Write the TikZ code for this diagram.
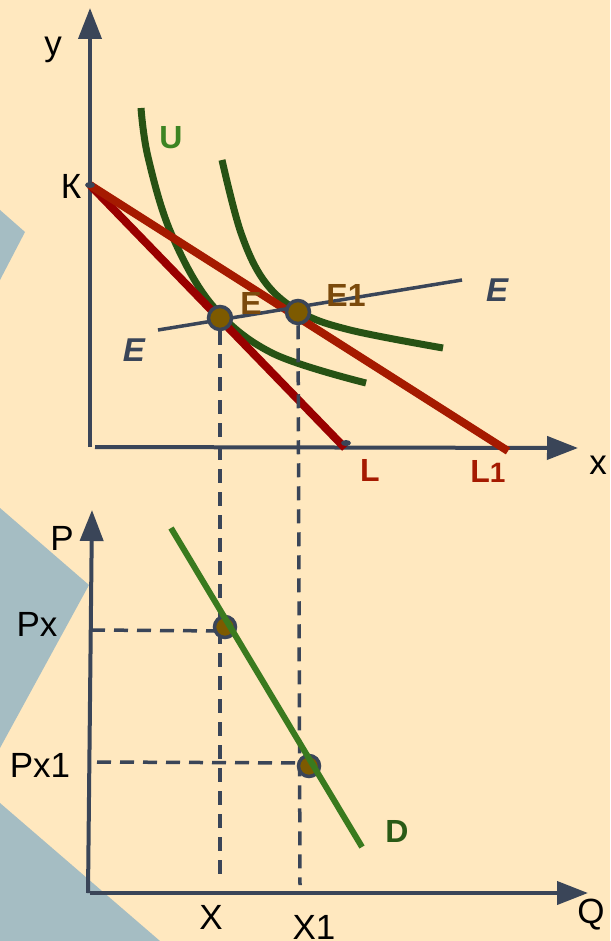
\documentclass[tikz,border=0pt]{standalone}
\usepackage{fontspec}
\setmainfont{Liberation Sans}
\usetikzlibrary{arrows.meta,shapes.geometric}
\definecolor{bg}{HTML}{FFE8BF}
\definecolor{slateblue}{HTML}{A5BDC3}
\definecolor{axis}{HTML}{3A4558}
\definecolor{redL}{HTML}{990000}
\definecolor{redLone}{HTML}{A51A00}
\definecolor{ucurve}{HTML}{275214}
\definecolor{dline}{HTML}{3A7A1E}
\definecolor{ulabel}{HTML}{3D8423}
\definecolor{dlabel}{HTML}{2A5A16}
\definecolor{brownlab}{HTML}{7B4A0C}
\definecolor{ptfill}{HTML}{7D5A00}
\begin{document}
\begin{tikzpicture}[x=1pt,y=-1pt,
  axisline/.style={draw=axis,line width=4pt,-{Triangle[length=31pt 0,width=23pt 0]}},
  dashline/.style={draw=axis,line width=3.5pt,dash pattern=on 14pt off 9pt},
  pt/.style={circle,draw=axis,fill=ptfill,line width=3.5pt,minimum size=23pt,inner sep=0pt},
  smalldot/.style={ellipse,fill=axis,minimum width=10pt,minimum height=6pt,inner sep=0pt},
  lab/.style={font=\fontsize{35}{40}\selectfont,text=black,inner sep=0pt},
  blab/.style={font=\fontsize{32}{36}\selectfont\bfseries,inner sep=0pt},
  ilab/.style={font=\fontsize{33}{36}\selectfont\bfseries\itshape,text=axis,inner sep=0pt}]
\fill[bg] (0,0) rectangle (610,941);
\useasboundingbox (0,0) rectangle (610,941);
% background wedges
\fill[slateblue] (0,210) -- (25,232) -- (0,280) -- cycle;
\fill[slateblue] (0,508) -- (89,585) -- (0,748) -- cycle;
\fill[slateblue] (0,803) -- (160,941) -- (0,941) -- cycle;

% ---------- upper graph ----------
\coordinate (O1) at (90,447);
\coordinate (Ytip) at (90,8);
\coordinate (Xstart) at (95,447);
\coordinate (Xtip) at (578,448);
\coordinate (K) at (90,185);
\coordinate (L) at (345,448);
\coordinate (L1) at (508,451);
\coordinate (Es) at (158,330);
\coordinate (Ee) at (462,280);

\draw[axisline] (O1) -- (Ytip);
\draw[axisline] (Xstart) -- (Xtip);

\node[lab] (ylab) at (53,50) {y};
\node[lab] (xlab) at (598,465) {x};
\node[lab] (Klab) at (71,186) {К};

% indifference curves
\draw[ucurve,line width=7pt] plot[smooth,tension=0.6] coordinates
  {(141,108) (148,157) (171,233) (212,305) (272,353) (366,383)};
\draw[ucurve,line width=7pt] plot[smooth,tension=0.6] coordinates
  {(222,160) (241,233) (265,282) (300,312) (350,330) (443,348)};

% budget lines
\draw[redL,line width=8pt] (K) -- (L);
\draw[redLone,line width=8pt] (K) -- (L1);

\node[smalldot] (Kdot) at (K) {};
\node[smalldot] (Ldot) at (346,443) {};

% income-consumption line
\draw[axis,line width=3.5pt] (Es) -- (Ee);

% equilibrium points
\node[pt] (E) at (220,318) {};
\node[pt] (E1) at (298,312) {};

\node[blab,text=ulabel] (Ulab) at (171,138) {U};
\node[blab,text=brownlab] (Elab) at (251,303) {E};
\node[blab,text=brownlab] (E1lab) at (346,295) {E1};
\node[ilab] (Eleft) at (134,350) {E};
\node[ilab] (Eright) at (497,290) {E};
\node[blab,text=redLone] (Llab) at (370,470) {L};
\node[blab,text=redLone] (L1lab) at (488,471) {L\fontsize{28}{30}\selectfont 1};

% ---------- lower graph ----------
\coordinate (O2) at (88,893);
\coordinate (Ptip) at (92,510);
\coordinate (Qstart) at (90,893);
\coordinate (Qtip) at (588,893);
\coordinate (Dtop) at (171,528);
\coordinate (Dbot) at (362,847);
\coordinate (Xfoot) at (220,877);
\coordinate (X1foot) at (300,885);
\coordinate (Pxaxis) at (91,630);
\coordinate (Px1axis) at (97,762);

% dashed projections
\draw[dashline] (E) -- (Xfoot);
\draw[dashline] (E1) -- (X1foot);
\draw[dashline] (Pxaxis) -- (226,631);
\draw[dashline] (Px1axis) -- (307,763);

\draw[axisline] (O2) -- (Ptip);
\draw[axisline] (Qstart) -- (Qtip);

\node[pt,minimum size=21pt] (Dp1) at (225,627) {};
\node[pt,minimum size=21pt] (Dp2) at (309,766) {};
% demand line
\draw[dline,line width=6pt] (Dtop) -- (Dbot);

\node[lab] (Plab) at (62,538) {P};
\node[lab] (Pxlab) at (37,624) {Px};
\node[lab] (Px1lab) at (40,765) {Px1};
\node[lab] (Xlab) at (211,917) {X};
\node[lab] (X1lab) at (314,927) {X1};
\node[lab] (Qlab) at (591,915) {Q};
\node[blab,text=dlabel] (Dlab) at (397,831) {D};
\end{tikzpicture}
\end{document}
